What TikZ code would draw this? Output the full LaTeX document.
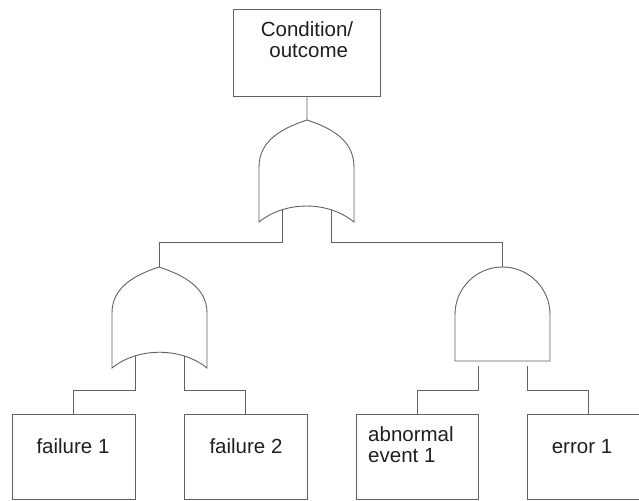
\documentclass[tikz,border=0pt]{standalone}
\usepackage{fontspec}
\setmainfont{Liberation Sans}
\begin{document}
\begin{tikzpicture}[x=1pt,y=-1pt,
  wire/.style={draw=black!62,line width=0.9pt},
  eventbox/.style={wire,rectangle,inner sep=0pt,anchor=north west},
  lbl/.style={text=black!88,inner sep=0pt,font=\fontsize{20.5}{21}\selectfont}]
\useasboundingbox (0,0) rectangle (639,500);
\clip (0,0) rectangle (639,500);

% event boxes
\node[eventbox,minimum width=147pt,minimum height=87pt] (top) at (233,9) {};
\node[eventbox,minimum width=123pt,minimum height=85pt] (f1) at (12,414) {};
\node[eventbox,minimum width=123pt,minimum height=85pt] (f2) at (184,414) {};
\node[eventbox,minimum width=122pt,minimum height=85pt] (ab) at (356,414) {};
\node[eventbox,minimum width=125pt,minimum height=85pt] (er) at (527,414) {};

% labels (base anchor sits on the last line)
\node[lbl,align=center,anchor=base] (topt) at (307,58) {Condition/\\ \,outcome};
\node[lbl,anchor=base] (f1t) at (73,453) {failure 1};
\node[lbl,anchor=base] (f2t) at (246,453) {failure 2};
\node[lbl,align=left,anchor=base west] (abt) at (368,462) {abnormal\\event 1};
\node[lbl,anchor=base] (ert) at (582,453) {error 1};

% OR gate (top)
\coordinate (g1) at (307,120);
\draw[wire] (g1) .. controls (283,128) and (259,140) .. (259,167) -- (259,222)
  .. controls (285,200.7) and (328,200.7) .. (354,222) -- (354,167)
  .. controls (354,140) and (331,128) .. (g1);
\coordinate (g1a) at (282,210);
\coordinate (g1b) at (331,210);

% OR gate (left)
\coordinate (g2) at (159,267);
\draw[wire] (g2) .. controls (135,275) and (112,287) .. (112,313) -- (112,368)
  .. controls (138,347) and (181,347) .. (207,368) -- (207,313)
  .. controls (207,287) and (183,275) .. (g2);
\coordinate (g2a) at (135,356);
\coordinate (g2b) at (184,356);

% AND gate (right)
\coordinate (g3) at (502.5,267);
\draw[wire] (455,361) -- (455,314.5) arc[start angle=180,end angle=360,radius=47.5]
  -- (550,361) -- cycle;
\coordinate (g3a) at (478,366);
\coordinate (g3b) at (527,366);

% connectors
\draw[wire] (top.south) -- (g1);
\draw[wire] (g1a) |- (159,242) -- (g2);
\draw[wire] (g1b) |- (502.5,242) -- (g3);
\draw[wire] (g2a) |- (73,390) -- (f1.north -| 73,0);
\draw[wire] (g2b) |- (245,390) -- (f2.north -| 245,0);
\draw[wire] (g3a) |- (417,390) -- (ab.north -| 417,0);
\draw[wire] (g3b) |- (588,390) -- (er.north -| 588,0);
\end{tikzpicture}
\end{document}
